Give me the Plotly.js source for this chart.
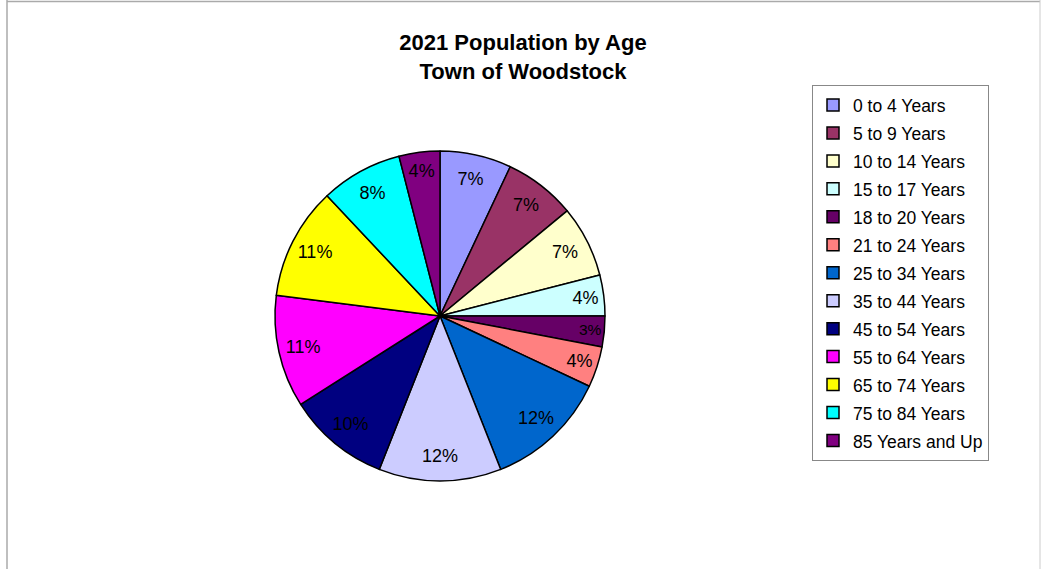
<!DOCTYPE html>
<html>
<head>
<meta charset="utf-8">
<script src="https://cdn.plot.ly/plotly-3.0.1.min.js"></script>
<style>
html,body{margin:0;padding:0;background:#fff;}
#chart{width:1045px;height:569px;}
</style>
</head>
<body>
<div id="chart"></div>
<script>
const ageGroups = ["0 to 4 Years","5 to 9 Years","10 to 14 Years","15 to 17 Years","18 to 20 Years","21 to 24 Years","25 to 34 Years","35 to 44 Years","45 to 54 Years","55 to 64 Years","65 to 74 Years","75 to 84 Years","85 Years and Up"];
const sharePct = [7,7,7,4,3,4,12,12,10,11,11,8,4];
const sliceColors = ["#9999FF","#993366","#FFFFCC","#CCFFFF","#660066","#FF8080","#0066CC","#CCCCFF","#000080","#FF00FF","#FFFF00","#00FFFF","#800080"];

const W = 1045, H = 569;
const cx = 440, cy = 316, R = 165;
const FONT = "Liberation Sans, Arial, sans-serif";
const pieDomain = {x: [(cx - R) / W, (cx + R) / W], y: [1 - (cy + R) / H, 1 - (cy - R) / H]};
const legendNames = ageGroups.map(s => '<span style="font-size:17.5px">' + s + '</span>');

// Coloured slices (no text)
const slices = {
  type: "pie",
  labels: legendNames,
  values: sharePct,
  sort: false,
  direction: "clockwise",
  rotation: 0,
  marker: {colors: sliceColors, line: {color: "#000", width: 1.5}},
  textinfo: "none",
  hoverinfo: "label+percent",
  domain: pieDomain
};

// Transparent ring overlay that carries the percentage labels near the rim
const labelRing = {
  type: "pie",
  labels: legendNames,
  values: sharePct,
  sort: false,
  direction: "clockwise",
  rotation: 0,
  hole: 0.7,
  showlegend: false,
  marker: {colors: sharePct.map(() => "rgba(0,0,0,0)"), line: {width: 0}},
  textinfo: "percent",
  textposition: "inside",
  insidetextorientation: "horizontal",
  textfont: {family: FONT, size: 18, color: "#000"},
  hoverinfo: "skip",
  domain: pieDomain
};

const layout = {
  width: W, height: H,
  margin: {l: 0, r: 0, t: 0, b: 0},
  paper_bgcolor: "#fff",
  font: {family: FONT, color: "#000"},
  title: {
    text: "<b>2021 Population by Age<br>Town of Woodstock</b>",
    font: {family: FONT, size: 22, color: "#000"},
    x: 523 / W, xanchor: "center", xref: "paper",
    y: 1 - 50 / H, yanchor: "top", yref: "container"
  },
  showlegend: true,
  legend: {
    x: 812 / W, xanchor: "left", y: 1 - 85 / H, yanchor: "top",
    bordercolor: "#888", borderwidth: 1, bgcolor: "#fff",
    font: {family: FONT, size: 19.2, color: "#000"},
    traceorder: "normal"
  },
  shapes: [
    {type: "line", xref: "paper", yref: "paper", x0: 7 / W, x1: 7 / W, y0: 0, y1: 1, line: {color: "#aaa", width: 1.5}},
    {type: "line", xref: "paper", yref: "paper", x0: 7 / W, x1: 1040 / W, y0: 1 - 1.5 / H, y1: 1 - 1.5 / H, line: {color: "#aaa", width: 1.5}},
    {type: "line", xref: "paper", yref: "paper", x0: 1040 / W, x1: 1040 / W, y0: 0, y1: 1, line: {color: "#ccc", width: 1}}
  ]
};

Plotly.newPlot("chart", [slices, labelRing], layout, {displayModeBar: false, staticPlot: true});
</script>
</body>
</html>
